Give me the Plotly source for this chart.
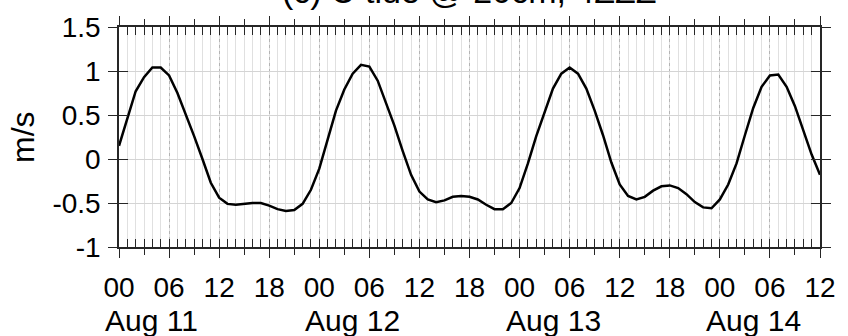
import plotly.graph_objects as go
import pandas as pd

# ---- data ----
start = "2021-08-11 00:00"
hours = list(range(0, 85))
u_tide = [0.15, 0.47, 0.77, 0.93, 1.04, 1.04, 0.95, 0.75, 0.51, 0.26,
          0.00, -0.27, -0.44, -0.51, -0.52, -0.51, -0.50, -0.50, -0.53, -0.57,
          -0.59, -0.58, -0.51, -0.35, -0.11, 0.22, 0.55, 0.79, 0.97, 1.07,
          1.05, 0.89, 0.64, 0.38, 0.09, -0.18, -0.37, -0.46, -0.49, -0.47,
          -0.43, -0.42, -0.43, -0.46, -0.52, -0.57, -0.57, -0.50, -0.33, -0.05,
          0.26, 0.53, 0.80, 0.97, 1.04, 0.97, 0.80, 0.55, 0.27, -0.04,
          -0.29, -0.42, -0.46, -0.43, -0.36, -0.31, -0.30, -0.33, -0.40, -0.49,
          -0.55, -0.56, -0.46, -0.29, -0.05, 0.27, 0.58, 0.82, 0.95, 0.96,
          0.82, 0.60, 0.33, 0.05, -0.18]
y_ticks = [-1, -0.5, 0, 0.5, 1, 1.5]
y_ticktext = ["-1", "-0.5", "0", "0.5", "1", "1.5"]
day_labels = ["Aug 11", "Aug 12", "Aug 13", "Aug 14"]
title_text = "(c) U tide @ 20cm, 4ZZZ"
ylabel = "m/s"

t0 = pd.Timestamp(start)
times = [t0 + pd.Timedelta(hours=h) for h in hours]
t_end = times[-1]

tick6 = [t0 + pd.Timedelta(hours=h) for h in range(0, 85, 6)]
tick6_text = [t.strftime("%H") for t in tick6]
tick3 = [t0 + pd.Timedelta(hours=h) for h in range(0, 85, 3)]
day_pos = [t0 + pd.Timedelta(days=d) for d in range(len(day_labels))]

FONT = "Liberation Sans, Arial, sans-serif"
AX = "#262626"
GRID = "#e0e0e0"
DOT = "#b4b4b4"
PLOT_H = 336 - 18 - 89
HOUR = 3600000

fig = go.Figure()
fig.add_trace(go.Scatter(x=times, y=u_tide, mode="lines",
                         line=dict(color="black", width=2.5),
                         showlegend=False, hoverinfo="skip"))

fig.update_layout(
    width=848, height=336,
    margin=dict(l=119, r=21, t=18, b=89),
    paper_bgcolor="white", plot_bgcolor="white",
    font=dict(family=FONT, color="black"),
    xaxis=dict(
        range=[t0, t_end], type="date",
        tickvals=tick6, ticktext=tick6_text,
        ticks="outside", ticklen=9, tickwidth=1.4, tickcolor=AX,
        tickfont=dict(size=28, color="black"), ticklabelstandoff=6,
        showline=True, linecolor=AX, linewidth=1.5, mirror="allticks",
        showgrid=True, gridcolor=DOT, griddash="dot", gridwidth=1,
        minor=dict(tickvals=tick3, ticks="outside", ticklen=6,
                   tickwidth=1.3, tickcolor=AX,
                   showgrid=True, gridcolor=DOT, griddash="dot", gridwidth=1),
        zeroline=False,
    ),
    xaxis2=dict(
        overlaying="x", range=[t0, t_end], type="date",
        tickvals=tick3,
        ticks="inside", ticklen=8, tickwidth=1.3, tickcolor=AX,
        showticklabels=False, showgrid=False, showline=False,
        minor=dict(dtick=HOUR, tick0=t0, ticks="inside", ticklen=8,
                   tickwidth=1.3, tickcolor=AX,
                   showgrid=True, gridcolor=GRID, gridwidth=1),
        mirror="allticks", zeroline=False,
    ),
    yaxis=dict(
        range=[-1, 1.5], tickvals=y_ticks, ticktext=y_ticktext,
        ticks="outside", ticklen=9, tickwidth=1.4, tickcolor=AX,
        tickfont=dict(size=28, color="black"), ticklabelstandoff=2,
        showline=True, linecolor=AX, linewidth=1.5, mirror="ticks",
        showgrid=True, gridcolor="#d4d4d4", gridwidth=1.3,
        zeroline=False,
    ),
    yaxis2=dict(
        overlaying="y", range=[-1, 1.5], tickvals=y_ticks,
        ticks="inside", ticklen=9, tickwidth=1.4, tickcolor=AX,
        showticklabels=False, showgrid=False, showline=False,
        mirror="ticks", zeroline=False,
    ),
)

# empty helper trace so the overlaid tick axes are drawn
fig.add_trace(go.Scatter(x=[t0, t_end], y=[None, None], xaxis="x2", yaxis="y2",
                         mode="lines", showlegend=False, hoverinfo="skip"))

for lab, d in zip(day_labels, day_pos):
    fig.add_annotation(x=d, xref="x", y=0, yref="paper", text=lab,
                       showarrow=False, xanchor="left", yanchor="top",
                       xshift=-16, yshift=-55,
                       font=dict(size=30, color="black", family=FONT))

fig.add_annotation(x=-(119 - 22) / 708, xref="paper", y=0.5, yref="paper",
                   text=ylabel, textangle=-90, showarrow=False,
                   xanchor="center", yanchor="middle",
                   font=dict(size=32, color="black", family=FONT))

fig.add_annotation(x=0.5, xref="paper", y=1 + 37 / PLOT_H, yref="paper",
                   text=title_text, showarrow=False,
                   xanchor="center", yanchor="middle",
                   font=dict(size=34, color="black", family=FONT))

fig.write_html("out.html")
